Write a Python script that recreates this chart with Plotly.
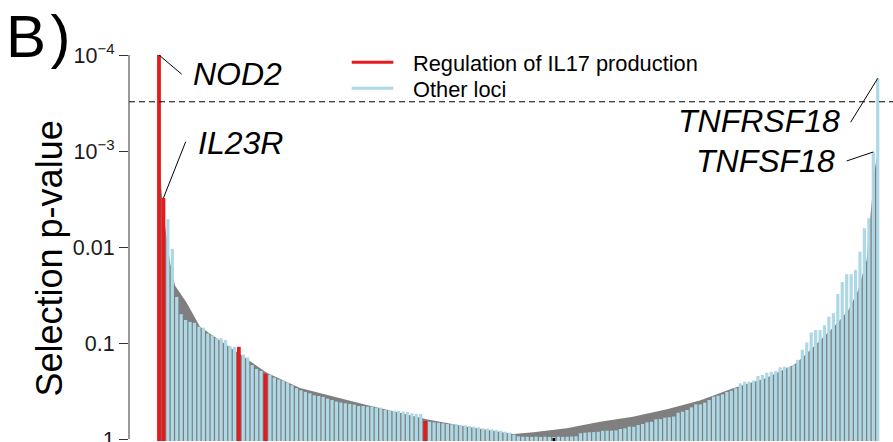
import math
import plotly.graph_objects as go

# ---------------- data ----------------
# -log10(selection p-value) for each of the 163 loci, in plotted order
neglog10p = [
    4.00, 2.51, 2.29, 1.98, 1.48, 1.30, 1.24, 1.22, 1.21, 1.17,
    1.16, 1.10, 1.08, 1.05, 1.05, 1.03, 0.97, 0.96, 0.96, 0.88,
    0.85, 0.77, 0.73, 0.71, 0.68, 0.67, 0.64, 0.62, 0.61, 0.59,
    0.56, 0.53, 0.507, 0.49, 0.476, 0.455, 0.448, 0.438, 0.42, 0.406,
    0.39, 0.38, 0.372, 0.365, 0.358, 0.344, 0.344, 0.337, 0.337, 0.327,
    0.327, 0.302, 0.302, 0.295, 0.292, 0.285, 0.28, 0.267, 0.26, 0.26,
    0.188, 0.18, 0.174, 0.17, 0.163, 0.156, 0.153, 0.153, 0.146, 0.142,
    0.135, 0.128, 0.122, 0.111, 0.108, 0.10, 0.094, 0.087, 0.076, 0.066,
    0.045, 0.028, 0.024, 0.024, 0.022, 0.024, 0.022, 0.024, 0.022, 0.02,
    0.024, 0.022, 0.024, 0.026, 0.028, 0.060, 0.066, 0.070, 0.072, 0.075,
    0.085, 0.087, 0.087, 0.09, 0.104, 0.111, 0.128, 0.128, 0.146, 0.156,
    0.174, 0.18, 0.205, 0.208, 0.222, 0.226, 0.233, 0.274, 0.285, 0.302,
    0.33, 0.361, 0.361, 0.379, 0.406, 0.441, 0.451, 0.465, 0.49, 0.503,
    0.528, 0.58, 0.597, 0.597, 0.608, 0.656, 0.667, 0.691, 0.701, 0.708,
    0.747, 0.753, 0.75, 0.77, 0.825, 0.93, 1.005, 1.11, 1.135, 1.135,
    1.185, 1.275, 1.31, 1.51, 1.635, 1.717, 1.717, 1.76, 1.951, 2.195,
    2.30, 2.99, 3.757,
]
# loci belonging to "Regulation of IL17 production"
il17_loci = [0, 1, 18, 24, 60]
# locus drawn as a small black mark
black_locus = 89
black_neglog10p = 0.01

# expected (null) curve, grey area: positions and -log10 p
expected_pos = [0, 1, 2.48, 3.6, 6.24, 9.24, 16.7, 24.3, 31.8, 39.3, 46.8, 54.3,
                60.3, 69.4, 76.9, 79.9, 84.4, 91.9, 99.4, 106.8, 114.5, 121.9,
                129.4, 136.7, 140.3, 143.3, 145.4, 147.3, 149.4, 151.4, 153.5,
                155.5, 157.5, 159.5, 161.2, 162]
expected_neglog10p = [2.9, 2.35, 1.84, 1.6, 1.42, 1.17, 0.93, 0.69, 0.53, 0.44,
                      0.354, 0.274, 0.205, 0.128, 0.076, 0.052, 0.07, 0.111, 0.18,
                      0.232, 0.309, 0.40, 0.528, 0.632, 0.711, 0.778, 0.865, 0.951,
                      1.039, 1.135, 1.24, 1.351, 1.542, 1.865, 2.77, 3.0]

threshold_p = 3.07e-4

tick_vals = [1e-4, 1e-3, 0.01, 0.1, 1]
tick_text = ["10<sup>\u22124</sup>", "10<sup>\u22123</sup>", "0.01", "0.1", "1"]

gene_labels = ["NOD2", "IL23R", "TNFRSF18", "TNFSF18"]
gene_locus = [0, 1, 162, 161]
# label anchor (position, -log10 p) and leader-line end
label_anchor = [(7.2, 3.80, "left"), (8.4, 3.08, "left"),
                (154.0, 3.31, "right"), (152.9, 2.90, "right")]
leader_end = [(5.12, 3.80), (6.02, 3.097), (155.9, 3.30), (155.0, 2.896)]

# ---------------- styling ----------------
RED = "#E41A1C"
BLUE = "#ADD8E6"
GREY = "#7F7F7F"
FONT = "Liberation Sans, Arial, Helvetica, sans-serif"

base_p = 1.05
x_range = [-6.76, 165.44]
y_range = [0.03125, -4.15625]  # log10 units, bottom -> top


def p(v):
    return 10 ** (-v)


fig = go.Figure()

# grey expected area
gx = [expected_pos[0]] + expected_pos + [expected_pos[-1]]
gy = [base_p] + [p(v) for v in expected_neglog10p] + [base_p]
fig.add_trace(go.Scatter(x=gx, y=gy, mode="lines", fill="toself",
                         fillcolor=GREY, line=dict(width=0, color=GREY),
                         hoverinfo="skip", showlegend=False))

# bars as vertical segments
bx, by, rx, ry = [], [], [], []
for i, v in enumerate(neglog10p):
    if i in il17_loci:
        rx += [i, i, None]
        ry += [base_p, p(v), None]
    else:
        bx += [i, i, None]
        by += [base_p, p(v), None]
fig.add_trace(go.Scatter(x=bx, y=by, mode="lines", line=dict(color=BLUE, width=3.2),
                         name="Other loci", showlegend=False))
fig.add_trace(go.Scatter(x=rx, y=ry, mode="lines", line=dict(color=RED, width=3.8),
                         name="Regulation of IL17 production", showlegend=False))
fig.add_trace(go.Scatter(x=[black_locus, black_locus], y=[base_p, p(black_neglog10p)],
                         mode="lines", line=dict(color="black", width=2.6),
                         showlegend=False, hoverinfo="skip"))

# threshold
fig.add_trace(go.Scatter(x=x_range, y=[threshold_p, threshold_p], mode="lines",
                         line=dict(color="black", width=1, dash="6px,4px"),
                         showlegend=False, hoverinfo="skip"))

# leader lines and labels
for name, loc, (ax_, ay_, anc), (ex, ey) in zip(gene_labels, gene_locus, label_anchor, leader_end):
    fig.add_trace(go.Scatter(x=[loc, ex], y=[p(neglog10p[loc]), p(ey)], mode="lines",
                             line=dict(color="black", width=1), showlegend=False,
                             hoverinfo="skip"))
    fig.add_annotation(x=ax_, y=-ay_, xref="x", yref="y", text="<i>%s</i>" % name,
                       showarrow=False, xanchor=anc, yanchor="middle",
                       font=dict(family=FONT, size=32, color="black"))


def ypaper(pv):
    return (math.log10(pv) - y_range[0]) / (y_range[1] - y_range[0])


# axis line (only between extreme ticks)
fig.add_shape(type="line", xref="paper", yref="paper", x0=0, x1=0,
              y0=ypaper(tick_vals[-1]), y1=ypaper(tick_vals[0]),
              line=dict(color="#333333", width=1))

# legend (drawn manually)
W = 893 - 129
H = 442 - 40
leg_items = [("Regulation of IL17 production", RED, 62.3), ("Other loci", BLUE, 88.3)]
for txt, col, ypx in leg_items:
    yp = (442 - ypx) / H
    fig.add_shape(type="line", xref="paper", yref="paper",
                  x0=(351.7 - 129) / W, x1=(393.3 - 129) / W, y0=yp, y1=yp,
                  line=dict(color=col, width=3))
    fig.add_annotation(xref="paper", yref="paper", x=(410.5 - 129) / W, y=(442 - ypx - 0.8) / H,
                       text=txt, showarrow=False, xanchor="left", yanchor="middle",
                       font=dict(family=FONT, size=21.8, color="black"))

# y label and panel letter
fig.add_annotation(xref="paper", yref="paper", x=(48.5 - 129) / W, y=(442 - 259) / H,
                   text="Selection p-value", textangle=-90, showarrow=False,
                   xanchor="center", yanchor="middle",
                   font=dict(family=FONT, size=36, color="black"))
fig.add_annotation(xref="paper", yref="paper", x=(4 - 129) / W, y=(442 - 36) / H,
                   text="B<span style='font-size:16px'> </span>)", showarrow=False,
                   xanchor="left", yanchor="middle",
                   font=dict(family=FONT, size=60, color="black"))

fig.update_layout(
    width=893, height=442,
    margin=dict(l=129, r=0, t=40, b=0),
    plot_bgcolor="white", paper_bgcolor="white",
    showlegend=False,
    font=dict(family=FONT),
    xaxis=dict(range=x_range, visible=False, fixedrange=True),
    yaxis=dict(type="log", range=y_range, tickvals=tick_vals, ticktext=tick_text,
               ticks="outside", ticklen=9, tickwidth=1, tickcolor="#333333",
               showgrid=False, zeroline=False, showline=False, automargin=False,
               ticklabeloverflow="allow",
               tickfont=dict(family=FONT, size=21.5, color="#1a1a1a")),
)

fig.write_html("out.html")
